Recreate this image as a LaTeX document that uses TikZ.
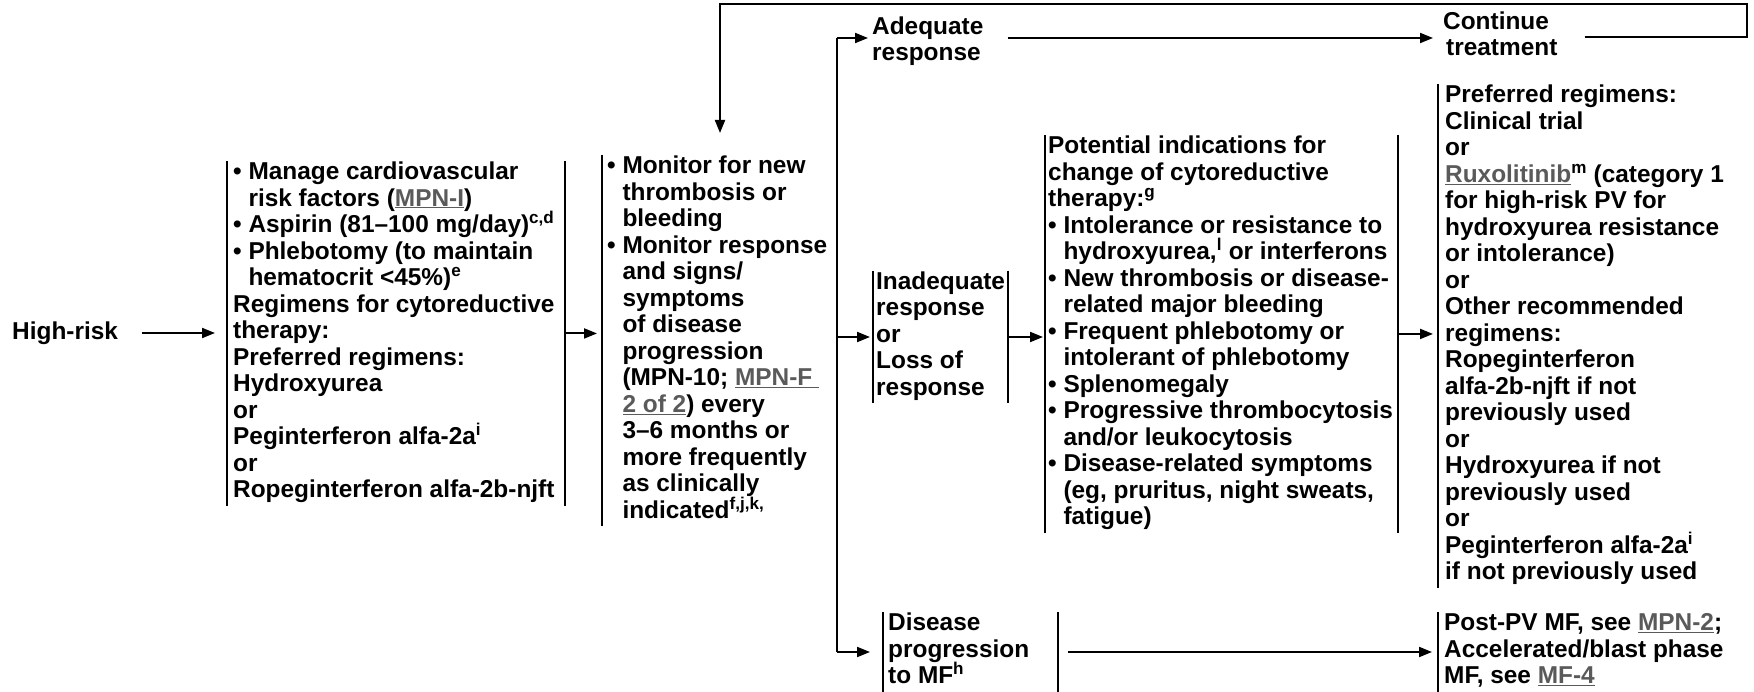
\documentclass[tikz,border=0pt]{standalone}
\usepackage{fontspec}
\setmainfont{Liberation Sans}
\usetikzlibrary{arrows.meta}
\definecolor{linkgray}{HTML}{5A5A5A}
\newcommand{\fs}{\fontsize{24.4}{26.5}\selectfont\bfseries\lineskiplimit=-100pt\relax}
\newcommand{\lnk}[1]{\textcolor{linkgray}{\underline{#1}}}
\newcommand{\ind}{\hphantom{•\ }}
\tikzset{
  every node/.style={font=\fs, text=black},
  box/.style={inner xsep=#1, inner ysep=0pt, align=left, anchor=north west},
  bar/.style={line width=2pt},
  conn/.style={line width=2pt},
  arr/.style={line width=2pt, -{Triangle[length=13pt,width=10pt]}},
}
\begin{document}
\begin{tikzpicture}[x=1pt,y=-1pt]
\fill[white] (0,0) rectangle (1754,692);
\useasboundingbox (0,0) rectangle (1754,692);

% High-risk
\node[inner sep=0pt, anchor=west] (hr) at (12,333) {High-risk};

% Box 1
\node[box=6pt] (b1) at (227,161) {\strut• Manage cardiovascular\\
\ind risk factors (\lnk{MPN-I})\\
• Aspirin (81–100 mg/day)\textsuperscript{c,d}\\
• Phlebotomy (to maintain\\
\ind hematocrit <45\%)\textsuperscript{e}\\
Regimens for cytoreductive\\
therapy:\\
Preferred regimens:\\
Hydroxyurea\\
or\\
Peginterferon alfa-2a\textsuperscript{i}\\
or\\
Ropeginterferon alfa-2b-njft\strut};
\draw[bar] (b1.north west) -- (b1.south west);
\draw[bar] ([xshift=338pt]b1.north west) -- ([xshift=338pt]b1.south west);
\coordinate (b1e) at ([xshift=338pt]b1.west);

% Box 2
\node[box=5pt] (b2) at (602,155) {\strut• Monitor for new\\
\ind thrombosis or\\
\ind bleeding\\
• Monitor response\\
\ind and signs/\\
\ind symptoms\\
\ind of disease\\
\ind progression\\
\ind (MPN-10; \lnk{MPN-F\ }\\
\ind \lnk{2 of 2}) every\\
\ind 3–6 months or\\
\ind more frequently\\
\ind as clinically\\
\ind indicated\textsuperscript{f,j,k,}\strut};
\draw[bar] (b2.north west) -- (b2.south west);

% Vertical distribution line
\coordinate (vt) at (837,38);
\coordinate (vb) at (837,652);
\draw[conn] (vt) -- (vb);

% Adequate / Continue
\node[box=0pt, anchor=west] (adq) at (872,42) {\strut Adequate\\response\strut};
\node[box=0pt, anchor=west] (cont) at (1443,37) {\strut Continue\\\hspace*{3pt}treatment\strut};

% Inadequate
\node[box=3pt, anchor=west] (inad) at (873,337) {\strut Inadequate\\response\\or\\Loss of\\response\strut};
\draw[bar] (inad.north west) -- (inad.south west);
\draw[bar] ([xshift=135pt]inad.north west) -- ([xshift=135pt]inad.south west);
\coordinate (inade) at ([xshift=135pt]inad.west);

% Potential indications
\node[box=3pt] (pot) at (1045,135) {\strut Potential indications for\\
change of cytoreductive\\
therapy:\textsuperscript{g}\\
• Intolerance or resistance to\\
\ind hydroxyurea,\textsuperscript{l} or interferons\\
• New thrombosis or disease-\\
\ind related major bleeding\\
• Frequent phlebotomy or\\
\ind intolerant of phlebotomy\\
• Splenomegaly\\
• Progressive thrombocytosis\\
\ind and/or leukocytosis\\
• Disease-related symptoms\\
\ind (eg, pruritus, night sweats,\\
\ind fatigue)\strut};
\draw[bar] (pot.north west) -- (pot.south west);
\draw[bar] ([xshift=353pt]pot.north west) -- ([xshift=353pt]pot.south west);
\coordinate (pote) at ([xshift=353pt]pot.west);

% Right regimens box
\node[box=7pt] (rb) at (1438,84) {\strut Preferred regimens:\\
Clinical trial\\
or\\
\lnk{Ruxolitinib}\textsuperscript{m} (category 1\\
for high-risk PV for\\
hydroxyurea resistance\\
or intolerance)\\
or\\
Other recommended\\
regimens:\\
Ropeginterferon\\
alfa-2b-njft if not\\
previously used\\
or\\
Hydroxyurea if not\\
previously used\\
or\\
Peginterferon alfa-2a\textsuperscript{i}\\
if not previously used\strut};
\draw[bar] (rb.north west) -- (rb.south west);

% Disease progression
\node[box=5pt, anchor=west] (dis) at (883,652) {\strut Disease\\progression\\to MF\textsuperscript{h}\strut};
\draw[bar] (dis.north west) -- (dis.south west);
\draw[bar] ([xshift=175pt]dis.north west) -- ([xshift=175pt]dis.south west);
\coordinate (dise) at ([xshift=175pt]dis.west);

% Post-PV
\node[box=6pt, anchor=west] (post) at (1438,652) {\strut Post-PV MF, see \lnk{MPN-2};\\Accelerated/blast phase\\MF, see \lnk{MF-4}\strut};
\draw[bar] (post.north west) -- (post.south west);

% Loop coordinates
\coordinate (lp) at (1747,4);
\coordinate (ld) at (720,4);

% Connectors
\draw[arr, shorten <=24pt, shorten >=12pt] (hr.east) -- (hr.east -| b1.west);
\draw[arr, shorten >=5pt] (b1e) -- (b1e -| b2.west);
\draw[arr, shorten >=4pt] (vt) -- (vt -| adq.west);
\draw[arr, shorten <=24pt, shorten >=10pt] (adq.east |- vt) -- (cont.west |- vt);
\draw[arr, shorten >=22pt] ([xshift=27pt]cont.east) -| (lp) -- (ld) -- (ld |- b2.north);
\draw[arr, shorten >=3pt] (vt |- inad.west) -- (inad.west);
\draw[arr, shorten >=2pt] (inade) -- (inade -| pot.west);
\draw[arr, shorten >=5pt] (pote) -- (pote -| rb.west);
\draw[arr, shorten >=13pt] (vb) -- (vb -| dis.west);
\draw[arr, shorten <=10pt, shorten >=6pt] (dise) -- (dise -| post.west);
\end{tikzpicture}
\end{document}
